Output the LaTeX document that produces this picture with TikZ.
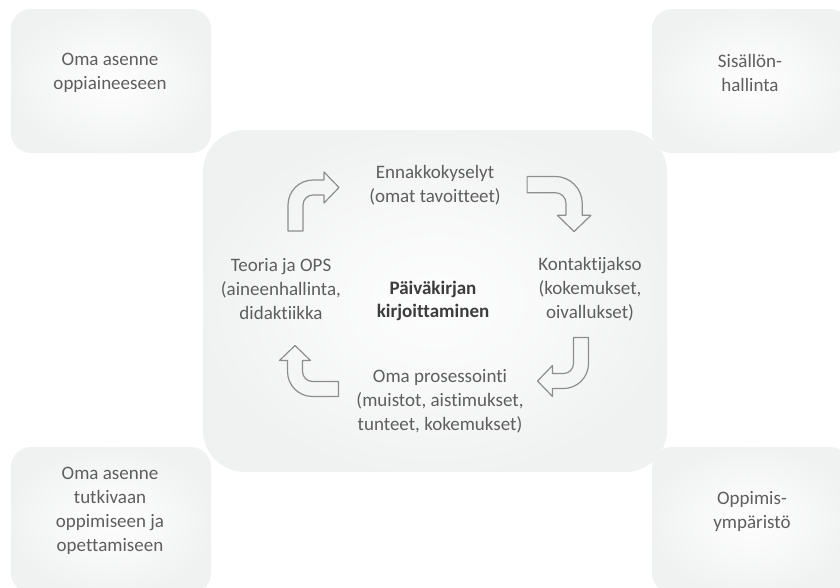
\documentclass[tikz,border=0pt]{standalone}
\usepackage{fontspec}
\setmainfont{Carlito}[Ligatures=NoCommon]
\definecolor{boxgray}{HTML}{F0F1F1}
\definecolor{txtgray}{HTML}{5E5E5E}
\definecolor{titlegray}{HTML}{3C3C3C}
\definecolor{arrowgray}{HTML}{8E8E8E}
\pgfdeclareradialshading{glow}{\pgfpoint{0bp}{0bp}}{color(0bp)=(white!85!boxgray); color(12bp)=(white!55!boxgray); color(26bp)=(boxgray); color(50bp)=(boxgray)}
\tikzset{
  panel/.style={shading=glow, draw=none},
  cornerbox/.style={panel, rounded corners=20pt},
  hubbox/.style={panel, rounded corners=42pt},
  lbl/.style={text=txtgray, align=center, inner sep=0pt, font=\fontsize{19}{24}\selectfont},
  hubtitle/.style={lbl, text=titlegray, font=\fontsize{19}{23}\selectfont\bfseries},
  bentline/.style={draw=arrowgray, line width=1.2pt, line join=round},
  bentarrow/.pic={
    \draw[bentline] (-25.5,29.5) -- (-25.5,3.5)
      .. controls (-25.5,-10.3) and (-14.3,-21.5) .. (-0.5,-21.5)
      -- (10.5,-21.5) -- (10.5,-29.5) -- (25.5,-14) -- (10.5,1.5) -- (10.5,-6.5)
      -- (-0.5,-6.5)
      .. controls (-6.02,-6.5) and (-10.5,-2.02) .. (-10.5,3.5)
      -- (-10.5,29.5) -- cycle;
  }
}
\begin{document}
\begin{tikzpicture}[x=1pt,y=-1pt]
\useasboundingbox (0,0) rectangle (840,587);
\clip (0,0) rectangle (840,587);
\fill[white] (0,0) rectangle (840,587);
% corner panels
\path[cornerbox] (11,9) rectangle (211,153);
\path[cornerbox] (652,9) rectangle (850,153);
\path[cornerbox] (11,447) rectangle (211,593);
\path[cornerbox] (652,447) rectangle (850,593);
% central panel
\path[hubbox] (203,130) rectangle (667,472);
% corner texts
\node[lbl] (tl) at (110,73) {Oma asenne\\oppiaineeseen};
\node[lbl] (tr) at (750,73) {Sisällön-\\hallinta};
\node[lbl] (bl) at (110,511) {Oma asenne\\tutkivaan\\oppimiseen ja\\opettamiseen};
\node[lbl] (br) at (752,511) {Oppimis-\\ympäristö};
% cycle texts
\node[lbl] (top) at (435,185) {Ennakkokyselyt\\(omat tavoitteet)};
\node[lbl] (left) at (281,289) {Teoria ja OPS\\(aineenhallinta,\\didaktiikka};
\node[hubtitle] (mid) at (433,301) {Päiväkirjan\\kirjoittaminen};
\node[lbl] (right) at (590,289) {Kontaktijakso\\(kokemukset,\\oivallukset)};
\node[lbl] (bottom) at (440,401) {Oma prosessointi\\(muistot, aistimukset,\\tunteet, kokemukset)};
% bent arrows
\pic at (313.5,201.5) {bentarrow};
\pic[rotate=-90, scale=1.08] at (559,204) {bentarrow};
\pic[rotate=180] at (563,367) {bentarrow};
\pic[rotate=90] at (309,371) {bentarrow};
\end{tikzpicture}
\end{document}
